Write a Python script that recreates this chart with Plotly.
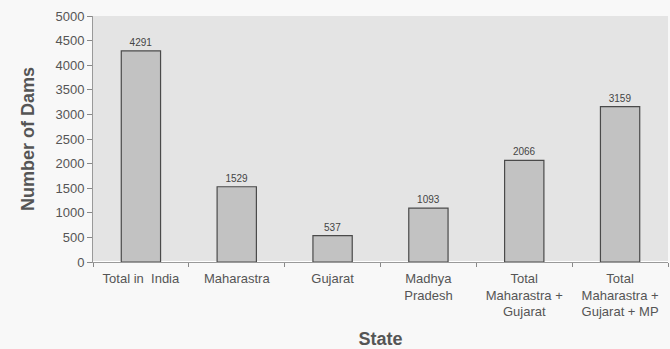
import plotly.graph_objects as go

categories = ["Total in\u00a0 India", "Maharastra", "Gujarat", "Madhya<br>Pradesh",
              "Total<br>Maharastra +<br>Gujarat", "Total<br>Maharastra +<br>Gujarat + MP"]
dams = [4291, 1529, 537, 1093, 2066, 3159]
y_ticks = [0, 500, 1000, 1500, 2000, 2500, 3000, 3500, 4000, 4500, 5000]

fig = go.Figure(go.Bar(
    x=categories, y=dams, width=0.41,
    marker=dict(color="#c2c2c2", line=dict(color="#4a4a4a", width=1.2)),
    text=[str(v) for v in dams], textposition="outside",
    textfont=dict(size=10, color="#444", family="Liberation Sans"),
    cliponaxis=False,
))
fig.update_layout(
    width=670, height=349,
    margin=dict(l=93, r=2, t=16, b=87),
    paper_bgcolor="#f8f8f8", plot_bgcolor="#e4e4e4",
    font=dict(family="Liberation Sans", color="#444", size=11),
    showlegend=False,
)
fig.update_yaxes(range=[0, 5000], tickvals=y_ticks, showgrid=False,
                 ticks="outside", ticklen=5, tickcolor="#888",
                 showline=True, linecolor="#999", linewidth=1,
                 tickfont=dict(size=13, color="#555"),
                 title=dict(text="<b>Number of Dams</b>", font=dict(size=18, color="#555"), standoff=16))
fig.update_xaxes(showgrid=False, ticks="outside", tickson="boundaries", ticklen=4, tickcolor="#888",
                 showline=True, linecolor="#999", linewidth=1,
                 tickfont=dict(size=13, color="#555"), ticklabelstandoff=4,
                 title=dict(text="<b>State</b>", font=dict(size=18, color="#555"), standoff=14))
fig.write_html("out.html")
